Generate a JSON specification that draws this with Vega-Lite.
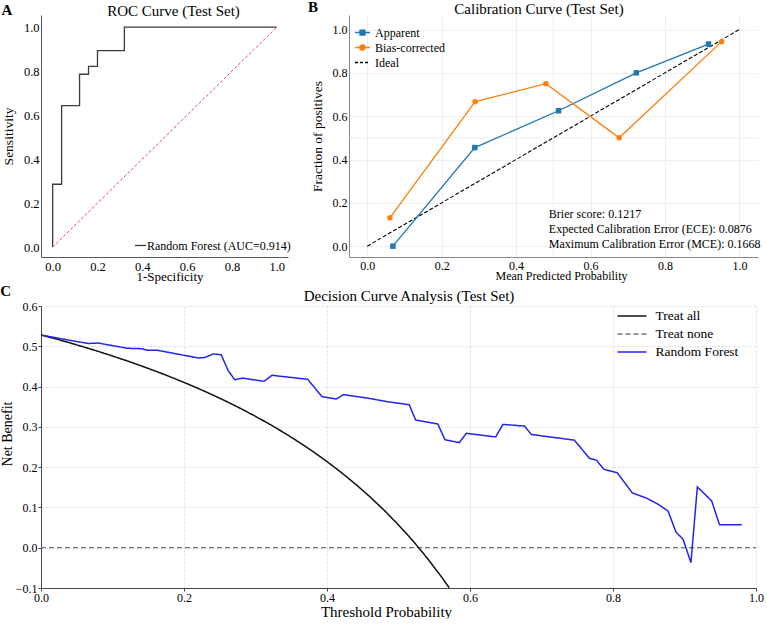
{
  "$schema": "https://vega.github.io/schema/vega-lite/v6.json",
  "background": "white",
  "padding": {"left": 0, "top": 0, "right": 0, "bottom": 0},
  "config": {
    "font": "Liberation Serif",
    "view": {"stroke": null},
    "axis": {
      "labelFont": "Liberation Serif",
      "titleFont": "Liberation Serif",
      "labelColor": "#000",
      "titleColor": "#000",
      "titleFontWeight": "normal",
      "labelFontSize": 12,
      "grid": false,
      "ticks": false,
      "tickSize": 0,
      "domainColor": "#555",
      "labelFlush": false,
      "labelOverlap": false
    },
    "legend": {"labelFont": "Liberation Serif", "labelColor": "#000"},
    "title": {"font": "Liberation Serif", "fontWeight": "bold", "fontSize": 15, "color": "#000"}
  },
  "datasets": {
    "roc": [
      {"fpr": 0, "tpr": 0},
      {"fpr": 0, "tpr": 0.2857},
      {"fpr": 0.04, "tpr": 0.2857},
      {"fpr": 0.04, "tpr": 0.6429},
      {"fpr": 0.12, "tpr": 0.6429},
      {"fpr": 0.12, "tpr": 0.7857},
      {"fpr": 0.16, "tpr": 0.7857},
      {"fpr": 0.16, "tpr": 0.8214},
      {"fpr": 0.2, "tpr": 0.8214},
      {"fpr": 0.2, "tpr": 0.8929},
      {"fpr": 0.32, "tpr": 0.8929},
      {"fpr": 0.32, "tpr": 1},
      {"fpr": 1, "tpr": 1}
    ],
    "chance": [
      {"fpr": 0, "tpr": 0},
      {"fpr": 1, "tpr": 1}
    ],
    "calib": [
      {"series": "Apparent", "mean_pred": 0.069, "frac_pos": 0.0},
      {"series": "Apparent", "mean_pred": 0.289, "frac_pos": 0.455},
      {"series": "Apparent", "mean_pred": 0.514, "frac_pos": 0.625},
      {"series": "Apparent", "mean_pred": 0.723, "frac_pos": 0.8},
      {"series": "Apparent", "mean_pred": 0.917, "frac_pos": 0.933},
      {"series": "Bias-corrected", "mean_pred": 0.061, "frac_pos": 0.131},
      {"series": "Bias-corrected", "mean_pred": 0.29, "frac_pos": 0.667},
      {"series": "Bias-corrected", "mean_pred": 0.48, "frac_pos": 0.75},
      {"series": "Bias-corrected", "mean_pred": 0.677, "frac_pos": 0.5},
      {"series": "Bias-corrected", "mean_pred": 0.952, "frac_pos": 0.944},
      {"series": "Ideal", "mean_pred": 0, "frac_pos": 0},
      {"series": "Ideal", "mean_pred": 1, "frac_pos": 1}
    ],
    "calib_keys": [
      {"series": "Apparent"},
      {"series": "Bias-corrected"},
      {"series": "Ideal"}
    ],
    "calib_stats": [
      {"stat": "Brier score: 0.1217\nExpected Calibration Error (ECE): 0.0876\nMaximum Calibration Error (MCE): 0.1668", "mean_pred": 0.488, "frac_pos": 0.129}
    ],
    "dca": [
      {"series": "Treat none", "threshold": 0, "net_benefit": 0},
      {"series": "Treat none", "threshold": 1, "net_benefit": 0},
      {"series": "Treat all", "threshold": 0, "net_benefit": 0.5283},
      {"series": "Treat all", "threshold": 0.02, "net_benefit": 0.5187},
      {"series": "Treat all", "threshold": 0.04, "net_benefit": 0.5087},
      {"series": "Treat all", "threshold": 0.06, "net_benefit": 0.4982},
      {"series": "Treat all", "threshold": 0.08, "net_benefit": 0.4873},
      {"series": "Treat all", "threshold": 0.1, "net_benefit": 0.4759},
      {"series": "Treat all", "threshold": 0.12, "net_benefit": 0.464},
      {"series": "Treat all", "threshold": 0.14, "net_benefit": 0.4515},
      {"series": "Treat all", "threshold": 0.16, "net_benefit": 0.4385},
      {"series": "Treat all", "threshold": 0.18, "net_benefit": 0.4248},
      {"series": "Treat all", "threshold": 0.2, "net_benefit": 0.4104},
      {"series": "Treat all", "threshold": 0.22, "net_benefit": 0.3953},
      {"series": "Treat all", "threshold": 0.24, "net_benefit": 0.3793},
      {"series": "Treat all", "threshold": 0.26, "net_benefit": 0.3626},
      {"series": "Treat all", "threshold": 0.28, "net_benefit": 0.3449},
      {"series": "Treat all", "threshold": 0.3, "net_benefit": 0.3261},
      {"series": "Treat all", "threshold": 0.32, "net_benefit": 0.3063},
      {"series": "Treat all", "threshold": 0.34, "net_benefit": 0.2853},
      {"series": "Treat all", "threshold": 0.36, "net_benefit": 0.263},
      {"series": "Treat all", "threshold": 0.38, "net_benefit": 0.2392},
      {"series": "Treat all", "threshold": 0.4, "net_benefit": 0.2138},
      {"series": "Treat all", "threshold": 0.42, "net_benefit": 0.1867},
      {"series": "Treat all", "threshold": 0.44, "net_benefit": 0.1577},
      {"series": "Treat all", "threshold": 0.46, "net_benefit": 0.1265},
      {"series": "Treat all", "threshold": 0.48, "net_benefit": 0.0929},
      {"series": "Treat all", "threshold": 0.5, "net_benefit": 0.0566},
      {"series": "Treat all", "threshold": 0.52, "net_benefit": 0.0173},
      {"series": "Treat all", "threshold": 0.54, "net_benefit": -0.0254},
      {"series": "Treat all", "threshold": 0.56, "net_benefit": -0.0721},
      {"series": "Treat all", "threshold": 0.571, "net_benefit": -0.0995},
      {"series": "Random Forest", "threshold": 0, "net_benefit": 0.528},
      {"series": "Random Forest", "threshold": 0.043, "net_benefit": 0.514},
      {"series": "Random Forest", "threshold": 0.066, "net_benefit": 0.507},
      {"series": "Random Forest", "threshold": 0.08, "net_benefit": 0.508},
      {"series": "Random Forest", "threshold": 0.121, "net_benefit": 0.495},
      {"series": "Random Forest", "threshold": 0.141, "net_benefit": 0.494},
      {"series": "Random Forest", "threshold": 0.15, "net_benefit": 0.49},
      {"series": "Random Forest", "threshold": 0.163, "net_benefit": 0.49},
      {"series": "Random Forest", "threshold": 0.22, "net_benefit": 0.471},
      {"series": "Random Forest", "threshold": 0.229, "net_benefit": 0.472},
      {"series": "Random Forest", "threshold": 0.241, "net_benefit": 0.481},
      {"series": "Random Forest", "threshold": 0.252, "net_benefit": 0.479},
      {"series": "Random Forest", "threshold": 0.262, "net_benefit": 0.439},
      {"series": "Random Forest", "threshold": 0.271, "net_benefit": 0.417},
      {"series": "Random Forest", "threshold": 0.282, "net_benefit": 0.421},
      {"series": "Random Forest", "threshold": 0.312, "net_benefit": 0.413},
      {"series": "Random Forest", "threshold": 0.323, "net_benefit": 0.428},
      {"series": "Random Forest", "threshold": 0.373, "net_benefit": 0.418},
      {"series": "Random Forest", "threshold": 0.393, "net_benefit": 0.375},
      {"series": "Random Forest", "threshold": 0.413, "net_benefit": 0.369},
      {"series": "Random Forest", "threshold": 0.423, "net_benefit": 0.38},
      {"series": "Random Forest", "threshold": 0.458, "net_benefit": 0.371},
      {"series": "Random Forest", "threshold": 0.486, "net_benefit": 0.362},
      {"series": "Random Forest", "threshold": 0.515, "net_benefit": 0.355},
      {"series": "Random Forest", "threshold": 0.524, "net_benefit": 0.317},
      {"series": "Random Forest", "threshold": 0.555, "net_benefit": 0.307},
      {"series": "Random Forest", "threshold": 0.565, "net_benefit": 0.268},
      {"series": "Random Forest", "threshold": 0.585, "net_benefit": 0.261},
      {"series": "Random Forest", "threshold": 0.595, "net_benefit": 0.284},
      {"series": "Random Forest", "threshold": 0.636, "net_benefit": 0.275},
      {"series": "Random Forest", "threshold": 0.646, "net_benefit": 0.306},
      {"series": "Random Forest", "threshold": 0.676, "net_benefit": 0.302},
      {"series": "Random Forest", "threshold": 0.686, "net_benefit": 0.281},
      {"series": "Random Forest", "threshold": 0.746, "net_benefit": 0.267},
      {"series": "Random Forest", "threshold": 0.767, "net_benefit": 0.222},
      {"series": "Random Forest", "threshold": 0.777, "net_benefit": 0.217},
      {"series": "Random Forest", "threshold": 0.787, "net_benefit": 0.195},
      {"series": "Random Forest", "threshold": 0.806, "net_benefit": 0.186},
      {"series": "Random Forest", "threshold": 0.827, "net_benefit": 0.136},
      {"series": "Random Forest", "threshold": 0.847, "net_benefit": 0.123},
      {"series": "Random Forest", "threshold": 0.863, "net_benefit": 0.108},
      {"series": "Random Forest", "threshold": 0.877, "net_benefit": 0.091},
      {"series": "Random Forest", "threshold": 0.888, "net_benefit": 0.039},
      {"series": "Random Forest", "threshold": 0.898, "net_benefit": 0.021},
      {"series": "Random Forest", "threshold": 0.909, "net_benefit": -0.037},
      {"series": "Random Forest", "threshold": 0.918, "net_benefit": 0.151},
      {"series": "Random Forest", "threshold": 0.938, "net_benefit": 0.116},
      {"series": "Random Forest", "threshold": 0.949, "net_benefit": 0.057},
      {"series": "Random Forest", "threshold": 0.98, "net_benefit": 0.057}
    ]
  },
  "spacing": 0,
  "resolve": {
    "scale": {"color": "independent", "fill": "independent", "stroke": "independent", "shape": "independent", "strokeDash": "independent"},
    "legend": {"color": "independent", "fill": "independent", "stroke": "independent", "shape": "independent", "strokeDash": "independent"}
  },
  "vconcat": [
    {
      "spacing": 17,
      "resolve": {
        "scale": {"color": "independent", "fill": "independent", "stroke": "independent", "shape": "independent", "strokeDash": "independent"},
        "legend": {"color": "independent", "fill": "independent", "stroke": "independent", "shape": "independent", "strokeDash": "independent"}
      },
      "hconcat": [
        {
          "width": 247,
          "height": 242,
          "title": {"text": "A", "anchor": "start", "frame": "bounds", "offset": -15},
          "layer": [
            {
              "data": {"name": "roc"},
              "mark": {"type": "line", "strokeWidth": 1.3},
              "encoding": {
                "x": {
                  "field": "fpr", "type": "quantitative",
                  "scale": {"domain": [-0.052, 1.05], "nice": false, "zero": false},
                  "axis": {"title": "1-Specificity", "titleFontSize": 13, "labelFontSize": 12.5, "values": [0, 0.2, 0.4, 0.6, 0.8, 1], "format": ".1f", "labelPadding": 3, "titlePadding": -2, "titleX": 128.5}
                },
                "y": {
                  "field": "tpr", "type": "quantitative",
                  "scale": {"domain": [-0.045, 1.055], "nice": false, "zero": false},
                  "axis": {"title": "Sensitivity", "titleFontSize": 13.5, "labelFontSize": 12.5, "values": [0, 0.2, 0.4, 0.6, 0.8, 1], "format": ".1f", "labelPadding": 2, "titlePadding": 8}
                },
                "color": {
                  "datum": "Random Forest (AUC=0.914)",
                  "scale": {"range": ["#3c3c3c"]},
                  "legend": {"title": null, "orient": "none", "legendX": 93, "legendY": 224, "symbolType": "stroke", "symbolSize": 121, "symbolStrokeWidth": 1.3, "labelFontSize": 12, "labelOffset": 0, "padding": 0}
                }
              }
            },
            {
              "data": {"name": "chance"},
              "mark": {"type": "line", "color": "#e84a4f", "strokeWidth": 1, "strokeDash": [3, 2]},
              "encoding": {
                "x": {
                  "field": "fpr", "type": "quantitative",
                  "scale": {"domain": [-0.052, 1.05], "nice": false, "zero": false},
                  "axis": {"orient": "top", "title": "ROC Curve (Test Set)", "labels": false, "domain": false, "ticks": false, "grid": false, "titleFontSize": 15, "titleBaseline": "alphabetic", "titlePadding": 0, "titleX": 132}
                },
                "y": {"field": "tpr", "type": "quantitative"}
              }
            }
          ],
          "resolve": {"axis": {"x": "independent"}}
        },
        {
          "width": 409,
          "height": 242,
          "title": {"text": "B", "anchor": "start", "frame": "bounds", "offset": -14, "dx": -2},
          "layer": [
            {
              "data": {"values": [{"ref": 0.5}]},
              "mark": {"type": "rule", "color": "#ebebeb", "strokeWidth": 0.8},
              "encoding": {"x": {"field": "ref", "type": "quantitative", "scale": {"domain": [-0.049, 1.05], "nice": false, "zero": false}, "axis": null}}
            },
            {
              "data": {"values": [{"ref": 0.5}]},
              "mark": {"type": "rule", "color": "#ebebeb", "strokeWidth": 0.8},
              "encoding": {"y": {"field": "ref", "type": "quantitative", "scale": {"domain": [-0.05, 1.067], "nice": false, "zero": false}, "title": "Fraction of positives"}}
            },
            {
              "data": {"name": "calib"},
              "transform": [{"filter": "datum.series === 'Ideal'"}],
              "mark": {"type": "line", "strokeWidth": 1.1, "color": "#000000", "strokeDash": [4, 2]},
              "encoding": {
                "x": {
                  "field": "mean_pred", "type": "quantitative",
                  "scale": {"domain": [-0.049, 1.05], "nice": false, "zero": false},
                  "axis": {"title": "Mean Predicted Probability", "titleFontSize": 12, "values": [0, 0.2, 0.4, 0.6, 0.8, 1], "format": ".1f", "labelPadding": 3, "titlePadding": -1, "grid": true, "gridColor": "#ebebeb", "gridWidth": 0.8, "domainColor": "#888", "titleX": 212}
                },
                "y": {
                  "field": "frac_pos", "type": "quantitative",
                  "scale": {"domain": [-0.05, 1.067], "nice": false, "zero": false},
                  "axis": {"title": "Fraction of positives", "titleFontSize": 13.5, "values": [0, 0.2, 0.4, 0.6, 0.8, 1], "format": ".1f", "labelPadding": 2, "titlePadding": 8, "grid": true, "gridColor": "#ebebeb", "gridWidth": 0.8, "domainColor": "#888"}
                }
              }
            },
            {
              "data": {"name": "calib"},
              "transform": [{"filter": "datum.series === 'Apparent'"}],
              "mark": {"type": "line", "strokeWidth": 1.3, "color": "#1f77b4", "point": {"shape": "square", "filled": true, "size": 30, "color": "#1f77b4"}},
              "encoding": {
                "x": {"field": "mean_pred", "type": "quantitative", "axis": null},
                "y": {"field": "frac_pos", "type": "quantitative", "title": "Fraction of positives"}
              }
            },
            {
              "data": {"name": "calib"},
              "transform": [{"filter": "datum.series === 'Bias-corrected'"}],
              "mark": {"type": "line", "strokeWidth": 1.3, "color": "#ff7f0e", "point": {"shape": "circle", "filled": true, "size": 30, "color": "#ff7f0e"}},
              "encoding": {
                "x": {"field": "mean_pred", "type": "quantitative", "axis": null},
                "y": {"field": "frac_pos", "type": "quantitative", "title": "Fraction of positives"}
              }
            },
            {
              "data": {"name": "calib_stats"},
              "mark": {"type": "text", "align": "left", "baseline": "alphabetic", "fontSize": 12, "lineHeight": 14.7, "lineBreak": "\n", "color": "#000"},
              "encoding": {
                "text": {"field": "stat", "type": "nominal"},
                "x": {
                  "field": "mean_pred", "type": "quantitative",
                  "axis": {"orient": "top", "title": "Calibration Curve (Test Set)", "labels": false, "domain": false, "ticks": false, "grid": false, "titleFontSize": 15, "titleBaseline": "alphabetic", "titlePadding": 2, "titleX": 189.5}
                },
                "y": {"field": "frac_pos", "type": "quantitative", "title": "Fraction of positives"}
              }
            },
            {
              "data": {"name": "calib_keys"},
              "mark": {"type": "point", "filled": true, "opacity": 0},
              "encoding": {
                "fill": {"field": "series", "type": "nominal", "scale": {"domain": ["Apparent", "Bias-corrected", "Ideal"], "range": ["#1f77b4", "#ff7f0e", "#000000"]},
                  "legend": {"title": null, "orient": "none", "legendX": 5, "legendY": 9, "symbolSize": 225, "symbolStrokeWidth": 1.3, "symbolFillColor": "#1f77b4", "labelFontSize": 12, "labelOffset": 4, "padding": 0, "rowPadding": -1}},
                "stroke": {"field": "series", "type": "nominal", "scale": {"domain": ["Apparent", "Bias-corrected", "Ideal"], "range": ["#1f77b4", "#ff7f0e", "#000000"]},
                  "legend": {"title": null, "orient": "none", "legendX": 5, "legendY": 9, "symbolSize": 225, "symbolStrokeWidth": 1.3, "symbolFillColor": "#1f77b4", "labelFontSize": 12, "labelOffset": 4, "padding": 0, "rowPadding": -1}},
                "shape": {"field": "series", "type": "nominal", "scale": {"domain": ["Apparent", "Bias-corrected", "Ideal"], "range": ["M-1,0H1M-0.33,-0.33H0.33V0.33H-0.33Z", "M-1,0H1M-0.36,0A0.36,0.36,0,1,0,0.36,0A0.36,0.36,0,1,0,-0.36,0Z", "M-1,0H1"]},
                  "legend": {"title": null, "orient": "none", "legendX": 5, "legendY": 9, "symbolSize": 225, "symbolStrokeWidth": 1.3, "symbolFillColor": "#1f77b4", "labelFontSize": 12, "labelOffset": 4, "padding": 0, "rowPadding": -1}},
                "strokeDash": {"field": "series", "type": "nominal", "scale": {"domain": ["Apparent", "Bias-corrected", "Ideal"], "range": [[1, 0], [1, 0], [3, 2]]},
                  "legend": {"title": null, "orient": "none", "legendX": 5, "legendY": 9, "symbolSize": 225, "symbolStrokeWidth": 1.3, "symbolFillColor": "#1f77b4", "labelFontSize": 12, "labelOffset": 4, "padding": 0, "rowPadding": -1}}
              }
            }
          ],
          "resolve": {"axis": {"x": "independent"}}
        }
      ]
    },
    {
      "resolve": {
        "scale": {"color": "independent", "strokeDash": "independent"},
        "legend": {"color": "independent", "strokeDash": "independent"}
      },
      "hconcat": [
        {
          "width": 715,
          "height": 282,
          "title": {"text": "C", "anchor": "start", "frame": "bounds", "offset": -11},
          "layer": [
            {
              "data": {"name": "dca"},
              "transform": [{"filter": "datum.series === 'Treat none'"}],
              "mark": {"type": "line", "strokeWidth": 1.2},
              "encoding": {
                "x": {
                  "field": "threshold", "type": "quantitative",
                  "scale": {"domain": [0, 1], "nice": false, "zero": false},
                  "axis": {"orient": "top", "title": "Decision Curve Analysis (Test Set)", "labels": false, "domain": false, "ticks": false, "grid": false, "titleFontSize": 15, "titleBaseline": "alphabetic", "titlePadding": 6, "titleX": 367.5}
                },
                "y": {"field": "net_benefit", "type": "quantitative", "scale": {"domain": [-0.1, 0.6], "nice": false, "zero": false}, "title": "Net Benefit"},
                "color": {"field": "series", "type": "nominal", "scale": {"domain": ["Treat all", "Treat none", "Random Forest"], "range": ["#111111", "#777777", "#2323f0"]}},
                "strokeDash": {"field": "series", "type": "nominal", "scale": {"domain": ["Treat all", "Treat none", "Random Forest"], "range": [[1, 0], [5, 3], [1, 0]]}}
              }
            },
            {
              "data": {"name": "dca"},
              "transform": [{"filter": "datum.series !== 'Treat none'"}],
              "mark": {"type": "line", "strokeWidth": 1.5, "clip": true},
              "encoding": {
                "x": {
                  "field": "threshold", "type": "quantitative",
                  "scale": {"domain": [0, 1], "nice": false, "zero": false},
                  "axis": {"title": "Threshold Probability", "titleFontSize": 15, "values": [0, 0.2, 0.4, 0.6, 0.8, 1], "format": ".1f", "ticks": true, "tickSize": 3, "tickColor": "#444", "labelPadding": 1, "titlePadding": 1, "grid": true, "gridColor": "#d4d4d4", "gridDash": [2, 2], "gridWidth": 0.8, "domainColor": "#444", "titleX": 345}
                },
                "y": {
                  "field": "net_benefit", "type": "quantitative",
                  "scale": {"domain": [-0.1, 0.6], "nice": false, "zero": false},
                  "axis": {"title": "Net Benefit", "titleFontSize": 14, "values": [-0.1, 0, 0.1, 0.2, 0.3, 0.4, 0.5, 0.6], "format": ".1f", "ticks": true, "tickSize": 3, "tickColor": "#444", "labelPadding": 1, "titlePadding": 1, "grid": true, "gridColor": "#d4d4d4", "gridDash": [2, 2], "gridWidth": 0.8, "domainColor": "#444", "titleY": 127.5}
                },
                "color": {"field": "series", "type": "nominal",
                  "legend": {"title": null, "orient": "none", "legendX": 583, "legendY": 2, "symbolType": "M-2,0H2", "symbolSize": 210, "symbolStrokeWidth": 1.5, "labelFontSize": 13.5, "labelOffset": 15.5, "padding": 0, "rowPadding": 3}},
                "strokeDash": {"field": "series", "type": "nominal",
                  "legend": {"title": null, "orient": "none", "legendX": 583, "legendY": 2, "symbolType": "M-2,0H2", "symbolSize": 210, "symbolStrokeWidth": 1.5, "labelFontSize": 13.5, "labelOffset": 15.5, "padding": 0, "rowPadding": 3}}
              }
            }
          ],
          "resolve": {"axis": {"x": "independent"}}
        }
      ]
    }
  ]
}
